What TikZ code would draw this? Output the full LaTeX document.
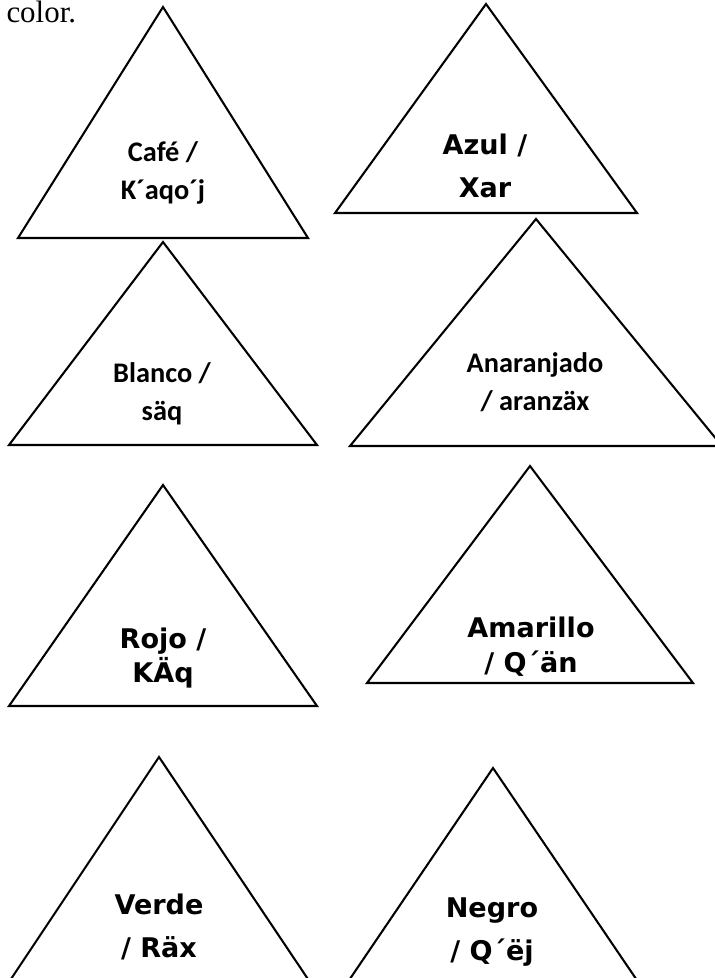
\documentclass[tikz,border=0pt]{standalone}
\usepackage{fontspec}
\setmainfont{Liberation Serif}
\newfontfamily\calibri{Carlito}
\newfontfamily\comic{DejaVu Sans}
\usepackage{tikz}

\begin{document}
\begin{tikzpicture}[x=0.388pt,y=-0.388pt,
  tri/.style={line width=0.8pt,line join=miter},
  calib/.style={font=\calibri\bfseries\fontsize{11}{14.8}\selectfont,align=center,inner sep=0pt},
  comic/.style={font=\comic\bfseries\fontsize{10.5}{16.5}\selectfont,align=center,inner sep=0pt}]
\clip (0,0) rectangle (715,978);
\fill[white] (0,0) rectangle (715,978);

\node[anchor=base west,inner sep=0pt,font=\fontsize{12}{14}\selectfont] (head) at (6,22) {color.};

% first row
\draw[tri] (18,238) -- (163,7) -- (308,238) -- cycle;
\node[calib] (cafe) at (163,173) {Café /\\K´aqo´j};
\draw[tri] (335,213) -- (486,4) -- (637,213) -- cycle;
\node[comic] (azul) at (485,166) {Azul /\\Xar};

% second row
\draw[tri] (9,445) -- (163,242) -- (317,445) -- cycle;
\node[calib] (blanco) at (162,394) {Blanco /\\säq};
\draw[tri] (350,446) -- (536,219) -- (722,446) -- cycle;
\node[calib] (naranja) at (535,382) {Anaranjado\\/ aranzäx};

% third row
\draw[tri] (9,706) -- (163,485) -- (317,706) -- cycle;
\node[comic] (rojo) at (163,658) {Rojo /\\[-3pt]KÄq};
\draw[tri] (367,683) -- (530,466) -- (693,683) -- cycle;
\node[comic] (amarillo) at (531,647) {Amarillo\\[-3pt]/ Q´än};

% last row, cut by the page
\draw[tri] (-3,1000) -- (159,757) -- (322,1000) -- cycle;
\node[comic] (verde) at (159,927) {Verde\\/ Räx};
\draw[tri] (339,995) -- (493,768) -- (647,995) -- cycle;
\node[comic] (negro) at (492,932) {Negro\\/ Q´ëj};

\end{tikzpicture}
\end{document}
